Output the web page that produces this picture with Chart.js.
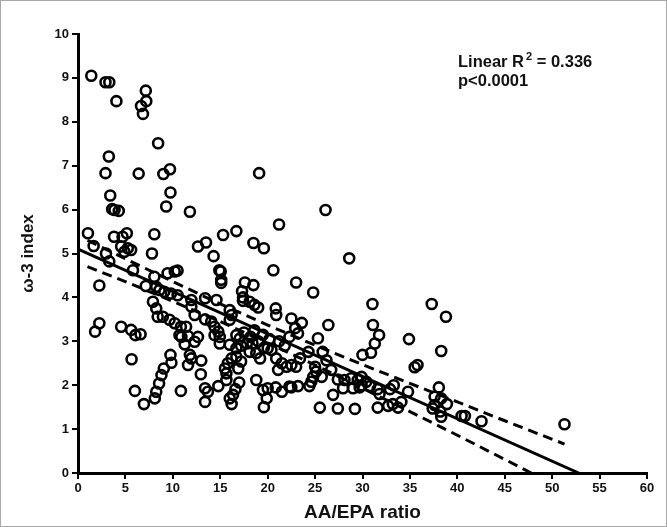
<!DOCTYPE html>
<html>
<head>
<meta charset="utf-8">
<script src="https://cdn.jsdelivr.net/npm/chart.js@4.4.1/dist/chart.umd.min.js"></script>
<style>
  html, body { margin: 0; padding: 0; background: #fff; }
  #wrap { width: 667px; height: 527px; position: relative; }
</style>
</head>
<body>
<div id="wrap"><canvas id="chart" width="667" height="527"></canvas></div>
<script>
// --- DATA ---
const aaEpaRatio = [
  1.40, 2.90, 3.30, 4.05, 7.15, 7.20, 6.65, 6.85, 8.45, 3.25, 2.90, 6.40, 9.00, 9.70, 19.10, 3.40, 3.60, 3.85, 4.30, 9.75,
  9.30, 11.80, 26.10, 21.20, 1.05, 1.65, 3.80, 4.70, 5.15, 8.05, 4.55, 5.25, 5.60, 4.90, 2.95, 3.30, 7.80, 12.65, 13.50, 15.30,
  16.70, 14.30, 18.50, 19.60, 28.60, 5.80, 2.25, 9.45, 10.20, 10.50, 7.15, 8.05, 8.25, 8.60, 9.10, 9.80, 10.50, 14.90, 15.05, 15.10,
  15.10, 20.60, 17.60, 18.50, 17.30, 23.00, 24.80, 13.40, 14.60, 11.95, 11.95, 12.30, 17.40, 17.40, 18.10, 18.60, 19.00, 7.90, 8.25, 8.40,
  8.95, 9.65, 10.20, 10.85, 11.40, 16.00, 16.20, 13.40, 16.00, 14.05, 14.40, 14.80, 14.95, 20.85, 20.90, 22.50, 23.60, 22.90, 23.20, 26.40,
  31.10, 31.05, 37.30, 38.80, 31.75, 34.90, 31.30, 30.90, 30.00, 25.30, 2.25, 1.80, 4.55, 5.60, 6.05, 6.60, 10.90, 11.60, 11.25, 12.30,
  12.65, 10.70, 5.65, 6.00, 6.95, 9.75, 9.85, 9.05, 8.80, 8.55, 8.25, 8.10, 10.85, 11.80, 11.95, 11.60, 13.00, 12.95, 13.40, 13.70,
  13.40, 14.80, 15.65, 15.50, 15.80, 16.20, 16.70, 17.20, 16.90, 15.65, 17.00, 16.60, 16.35, 16.00, 16.20, 18.80, 19.50, 20.00, 20.85, 21.50,
  22.50, 23.20, 19.90, 19.60, 14.40, 14.95, 16.00, 16.70, 17.05, 17.80, 18.10, 18.80, 19.20, 20.00, 20.40, 16.70, 20.90, 21.50, 22.00, 22.50,
  23.00, 21.10, 17.50, 18.20, 18.60, 19.00, 19.50, 20.20, 21.20, 21.80, 17.20, 18.40, 19.60, 22.30, 23.40, 26.20, 26.70, 24.30, 25.80, 25.00,
  25.10, 24.80, 25.70, 24.60, 22.30, 24.40, 27.40, 28.10, 28.80, 29.50, 29.90, 30.40, 29.90, 27.95, 29.00, 29.70, 30.80, 31.60, 31.80, 32.90,
  33.30, 34.80, 26.90, 25.50, 27.40, 29.20, 31.60, 32.70, 33.20, 33.75, 34.10, 35.50, 35.80, 38.30, 38.05, 37.60, 38.30, 38.90, 37.60, 38.20,
  37.40, 38.30, 40.45, 40.80, 42.55, 51.30
];
const omega3Index = [
  9.05, 8.90, 8.90, 8.47, 8.71, 8.47, 8.36, 8.18, 7.51, 7.21, 6.83, 6.82, 6.81, 6.92, 6.83, 6.32, 6.01, 5.99, 5.97, 6.39,
  6.07, 5.95, 5.99, 5.66, 5.46, 5.17, 5.38, 5.38, 5.46, 5.44, 5.16, 5.12, 5.08, 5.04, 5.00, 4.82, 5.00, 5.16, 5.25, 5.42,
  5.51, 4.94, 5.24, 5.12, 4.89, 4.62, 4.27, 4.55, 4.59, 4.61, 4.26, 4.47, 4.24, 4.17, 4.13, 4.09, 4.05, 4.62, 4.59, 4.40,
  4.33, 4.62, 4.34, 4.28, 4.14, 4.34, 4.11, 3.98, 3.94, 3.94, 3.79, 3.60, 4.00, 3.92, 3.90, 3.83, 3.77, 3.90, 3.75, 3.56,
  3.56, 3.49, 3.41, 3.33, 3.33, 3.71, 3.60, 3.50, 3.49, 3.45, 3.33, 3.22, 3.10, 3.75, 3.60, 3.52, 3.42, 3.30, 3.18, 3.37,
  3.37, 3.85, 3.85, 3.56, 3.14, 3.05, 2.95, 2.74, 2.69, 3.07, 3.41, 3.22, 3.33, 3.26, 3.14, 3.16, 3.10, 3.12, 2.93, 2.99,
  3.10, 3.14, 2.59, 1.87, 1.57, 2.69, 2.51, 2.38, 2.23, 2.04, 1.85, 1.70, 1.87, 2.69, 2.61, 2.46, 2.56, 2.25, 1.93, 1.85,
  1.62, 1.98, 2.27, 2.38, 2.50, 2.61, 2.65, 2.54, 2.38, 2.12, 2.06, 1.91, 1.78, 1.70, 1.57, 2.12, 1.89, 1.93, 1.95, 1.85,
  1.95, 1.98, 1.70, 1.50, 3.14, 2.95, 2.92, 3.14, 3.06, 2.95, 2.76, 2.73, 2.61, 2.84, 2.80, 2.84, 2.61, 2.50, 2.42, 2.46,
  2.42, 2.35, 3.20, 3.10, 3.25, 3.00, 3.15, 3.05, 3.00, 2.90, 2.90, 2.95, 2.85, 3.10, 2.61, 2.57, 2.35, 2.76, 2.76, 2.42,
  2.31, 2.19, 2.19, 2.08, 1.97, 1.98, 2.13, 2.12, 2.16, 2.12, 2.19, 2.08, 2.00, 1.93, 1.93, 1.95, 1.98, 1.91, 1.80, 1.91,
  2.00, 1.85, 1.78, 1.49, 1.47, 1.46, 1.49, 1.53, 1.57, 1.49, 1.62, 2.41, 2.46, 2.78, 1.95, 1.74, 1.70, 1.57, 1.55, 1.40,
  1.47, 1.28, 1.30, 1.30, 1.18, 1.11
];

// fitted line and 95% bands
const fitX = [0, 52.8];
const fitY = [5.1, 0];
const upperBandX = [1, 5, 10, 15, 20, 25, 30, 35, 40, 45, 51.3];
const upperBandY = [5.30, 4.88, 4.36, 3.85, 3.37, 2.91, 2.47, 2.04, 1.62, 1.19, 0.66];
const lowerBandX = [1, 5, 10, 15, 20, 25, 30, 35, 40, 45, 47.8];
const lowerBandY = [4.70, 4.36, 3.91, 3.45, 2.96, 2.46, 1.93, 1.40, 0.86, 0.31, 0];

// axis ticks
const xMin = 0, xMax = 60, xStep = 5;
const yMin = 0, yMax = 10, yStep = 1;

const FONT = 'Arial, "Liberation Sans", sans-serif';
const INK = '#111';

const toPoints = (xs, ys) => xs.map((x, i) => ({ x: x, y: ys[i] }));

// --- annotation + frame ---
const annotationPlugin = {
    id: 'annotation',
    afterDraw(chart) {
        const ctx = chart.ctx;
        ctx.save();
        ctx.fillStyle = INK;
        ctx.textBaseline = 'alphabetic';
        ctx.textAlign = 'left';
        const left = 458;
        ctx.font = `bold 16.5px ${FONT}`;
        ctx.fillText('Linear R', left, 67);
        let w = ctx.measureText('Linear R').width;
        ctx.font = `bold 11px ${FONT}`;
        ctx.fillText('2', left + w + 2, 60);
        const w2 = ctx.measureText('2').width;
        ctx.font = `bold 16.5px ${FONT}`;
        ctx.fillText(' = 0.336', left + w + w2 + 2, 67);
        ctx.fillText('p<0.0001', left, 86);

        // outer frame
        ctx.strokeStyle = '#a8a8a8';
        ctx.lineWidth = 1;
        ctx.strokeRect(0.5, 0.5, chart.width - 1, chart.height - 1);
        ctx.restore();
    }
};

const lineDataset = (points, dashed) => ({
    type: 'line',
    data: points,
    borderColor: '#000',
    borderWidth: 3,
    borderDash: dashed ? [10, 6] : [],
    pointRadius: 0,
    fill: false,
    tension: 0,
    order: 0
});

new Chart(document.getElementById('chart'), {
    type: 'scatter',
    data: {
        datasets: [
            {
                label: 'subjects',
                data: toPoints(aaEpaRatio, omega3Index),
                pointStyle: 'circle',
                pointRadius: 5,
                pointBorderWidth: 2.6,
                borderColor: '#000',
                backgroundColor: 'rgba(0,0,0,0)',
                order: 1
            },
            lineDataset(toPoints(fitX, fitY), false),
            lineDataset(toPoints(upperBandX, upperBandY), true),
            lineDataset(toPoints(lowerBandX, lowerBandY), true)
        ]
    },
    options: {
        responsive: false,
        animation: false,
        layout: { padding: { left: 0, top: 34, right: 20, bottom: 0 } },
        plugins: { legend: { display: false }, tooltip: { enabled: false } },
        scales: {
            x: {
                type: 'linear',
                min: xMin, max: xMax,
                ticks: { stepSize: xStep, color: INK, font: { family: FONT, size: 13, weight: 'bold' }, padding: 2 },
                grid: { display: true, drawOnChartArea: false, drawTicks: true, tickLength: 6, color: '#000', lineWidth: 2 },
                border: { display: true, color: '#000', width: 3 },
                title: { display: true, text: 'AA/EPA ratio', color: INK, font: { family: FONT, size: 19, weight: 'bold' }, padding: { top: 0, bottom: 3 } },
                afterFit: (scale) => { scale.height = 54; }
            },
            y: {
                type: 'linear',
                min: yMin, max: yMax,
                ticks: { stepSize: yStep, color: INK, font: { family: FONT, size: 13, weight: 'bold' }, padding: 3 },
                grid: { display: true, drawOnChartArea: false, drawTicks: true, tickLength: 6, color: '#000', lineWidth: 2 },
                border: { display: true, color: '#000', width: 3 },
                title: { display: true, text: 'ω-3 index', color: INK, font: { family: FONT, size: 17, weight: 'bold' }, padding: { top: 18, bottom: 0 } },
                afterFit: (scale) => { scale.width = 78; }
            }
        }
    },
    plugins: [annotationPlugin]
});
</script>
</body>
</html>
